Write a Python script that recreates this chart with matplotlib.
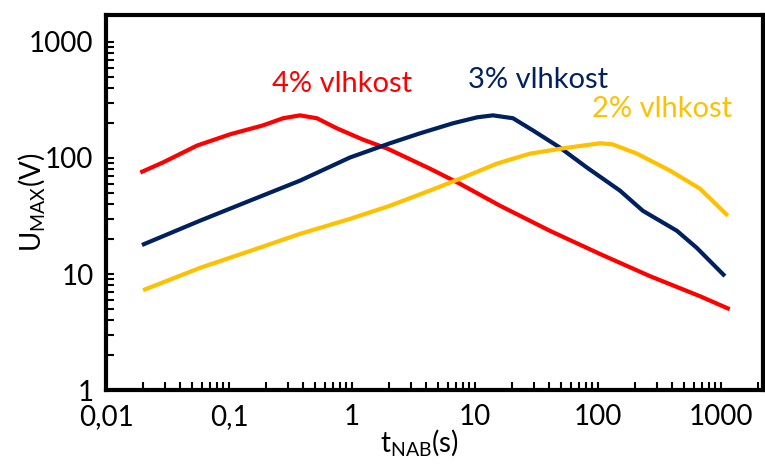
import matplotlib
matplotlib.use("Agg")
import matplotlib.pyplot as plt
from matplotlib.ticker import FixedLocator, LogLocator, NullFormatter, FixedFormatter

plt.rcParams['font.family'] = ['Lato', 'DejaVu Sans']
plt.rcParams['mathtext.fontset'] = 'custom'
plt.rcParams['mathtext.rm'] = 'Lato'

# Data
t4 = [0.019, 0.029, 0.055, 0.102, 0.189, 0.275, 0.378, 0.519, 0.755, 1.23, 1.96, 4.3, 7.55, 16, 40.7, 104, 265, 675, 1180]
u4 = [75, 91.5, 128, 160, 191, 220, 233, 220, 180, 144, 120, 81, 60, 38.8, 23.6, 14.9, 9.6, 6.45, 4.98]

t3 = [0.0196, 0.058, 0.148, 0.378, 0.964, 2.04, 3.57, 6.62, 10.4, 14.0, 20.4, 29.6, 49.1, 81.4, 151, 232, 439, 638, 1079]
u3 = [17.8, 28.8, 42.9, 63.8, 101, 134, 163, 199, 224, 233, 220, 173, 123, 82.8, 52.4, 35.1, 23.6, 16.8, 9.6]

t2 = [0.02, 0.058, 0.148, 0.378, 0.964, 2.04, 4.3, 7.98, 15.1, 28, 51.9, 104, 132, 208, 385, 675, 1140]
u2 = [7.26, 11.3, 15.8, 22.2, 29.9, 38.8, 52.4, 67.8, 89.5, 109, 121, 134, 131, 109, 78, 54.5, 31.8]

x_ticks = [0.01, 0.1, 1, 10, 100, 1000]
x_labels = ["0,01", "0,1", "1", "10", "100", "1000"]
y_ticks = [1, 10, 100, 1000]
y_labels = ["1", "10", "100", "1000"]

labels = ["4% vlhkost", "3% vlhkost", "2% vlhkost"]
colors = ["#FF0000", "#002060", "#FFC000"]

fig = plt.figure(figsize=(7.65, 4.65), dpi=100)
ax = fig.add_axes([0.1386, 0.161, 0.997 - 0.1386, 0.968 - 0.161])

for t, u, c in zip([t4, t3, t2], [u4, u3, u2], colors):
    ax.plot(t, u, color=c, lw=3.0, solid_capstyle='butt', solid_joinstyle='round')

ax.set_xscale('log')
ax.set_yscale('log')
ax.set_xlim(0.01, 2190)
ax.set_ylim(1, 1710)

ax.xaxis.set_major_locator(FixedLocator(x_ticks))
ax.xaxis.set_major_formatter(FixedFormatter(x_labels))
ax.yaxis.set_major_locator(FixedLocator(y_ticks))
ax.yaxis.set_major_formatter(FixedFormatter(y_labels))
ax.xaxis.set_minor_locator(LogLocator(base=10, subs=range(2, 10), numticks=20))
ax.yaxis.set_minor_locator(LogLocator(base=10, subs=range(2, 10), numticks=20))
ax.xaxis.set_minor_formatter(NullFormatter())
ax.yaxis.set_minor_formatter(NullFormatter())

ax.tick_params(which='both', direction='in', length=6, width=1.5, color='black')
ax.tick_params(axis='x', which='major', labelsize=20, pad=10)
ax.tick_params(axis='y', which='major', labelsize=20, pad=9)
ax.tick_params(axis='y', which='both', right=False)
ax.tick_params(axis='x', which='both', top=False)

for s in ax.spines.values():
    s.set_linewidth(3.0)
    s.set_color('black')

ax.set_xlabel(r'$\mathregular{t_{NAB}(s)}$', fontsize=20)
ax.set_ylabel(r'$\mathregular{U_{MAX}(V)}$', fontsize=20)
ax.xaxis.set_label_coords(0.478, -0.097)
ax.yaxis.set_label_coords(-0.09, 0.5)

ax.text(0.83, 433, labels[0], color=colors[0], fontsize=21, ha='center', va='center')
ax.text(32.5, 469, labels[1], color=colors[1], fontsize=21, ha='center', va='center')
ax.text(331, 263, labels[2], color=colors[2], fontsize=21, ha='center', va='center')

fig.savefig("out.png", dpi=100)
